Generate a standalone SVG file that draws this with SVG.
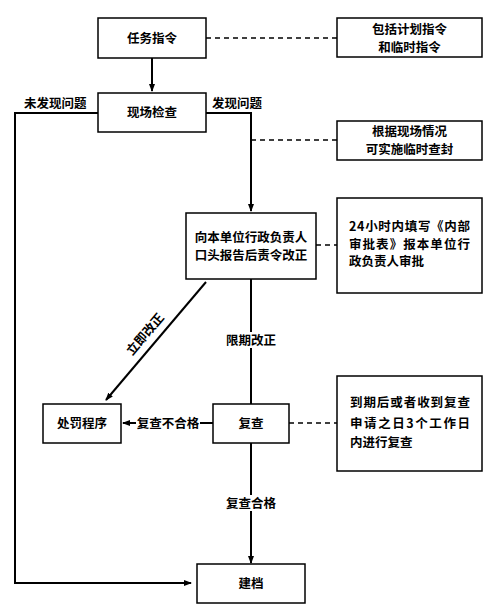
<svg xmlns="http://www.w3.org/2000/svg" width="500" height="606" viewBox="0 0 500 606">
<style>
.box{fill:#fff;stroke:#000;stroke-width:1.5}
.t{font-family:"Noto Sans CJK SC","Liberation Sans",sans-serif;font-weight:bold;font-size:12.5px;fill:#000}
.c{text-anchor:middle}
.ln{fill:none;stroke:#000;stroke-width:2}
.ds{fill:none;stroke:#000;stroke-width:1.3;stroke-dasharray:5,4}
</style>
<defs>
<marker id="ah" markerWidth="8" markerHeight="8" refX="7" refY="4" orient="auto" markerUnits="userSpaceOnUse">
<path d="M0,1 L8,4 L0,7 Z" fill="#000"/>
</marker>
</defs>
<rect width="500" height="606" fill="#fff"/>
<g id="connectors">
<line class="ds" x1="206" y1="38" x2="337" y2="38"/>
<line class="ln" x1="152" y1="58" x2="152" y2="91" marker-end="url(#ah)"/>
<polyline class="ln" points="98,113 15,113 15,583 191,583" marker-end="url(#ah)"/>
<polyline class="ln" points="206,113 251,113 251,211" marker-end="url(#ah)"/>
<line class="ds" x1="251" y1="140" x2="337" y2="140"/>
<line class="ds" x1="316" y1="245" x2="337" y2="245"/>
<line class="ln" x1="206" y1="282" x2="106" y2="400" marker-end="url(#ah)"/>
<line class="ln" x1="251" y1="279" x2="251" y2="404"/>
<line class="ln" x1="213" y1="423" x2="123" y2="423" marker-end="url(#ah)"/>
<line class="ds" x1="289" y1="423" x2="337" y2="423"/>
<line class="ln" x1="251" y1="443" x2="251" y2="563" marker-end="url(#ah)"/>
<rect x="136" y="415" width="64" height="16" fill="#fff"/>
<rect x="224" y="332" width="54" height="16" fill="#fff"/>
<rect x="224" y="495" width="54" height="16" fill="#fff"/>
<text class="t c" x="168" y="427.5">复查不合格</text>
<text class="t c" x="251" y="344.5">限期改正</text>
<text class="t c" x="251" y="507.5">复查合格</text>
<text class="t c" transform="translate(145,334) rotate(-49.5)" y="4.5">立即改正</text>
<text class="t" x="24" y="107.5">未发现问题</text>
<text class="t" x="212" y="107.5">发现问题</text>
</g>
<g id="n1"><rect class="box" x="98" y="18" width="108" height="40"/><text class="t c" x="152" y="42.5">任务指令</text></g>
<g id="n2"><rect class="box" x="98" y="93" width="108" height="39"/><text class="t c" x="152" y="117">现场检查</text></g>
<g id="n3"><rect class="box" x="186" y="213" width="130" height="66"/><text class="t c" x="251" y="241.5">向本单位行政负责人</text><text class="t c" x="251" y="260">口头报告后责令改正</text></g>
<g id="n4"><rect class="box" x="43" y="404" width="78" height="39"/><text class="t c" x="82" y="428">处罚程序</text></g>
<g id="n5"><rect class="box" x="213" y="404" width="76" height="39"/><text class="t c" x="251" y="428">复查</text></g>
<g id="n6"><rect class="box" x="197" y="564" width="108" height="39"/><text class="t c" x="251" y="588">建档</text></g>
<g id="note1"><rect class="box" x="337" y="18" width="145" height="39"/><text class="t c" x="409.5" y="33.5">包括计划指令</text><text class="t c" x="409.5" y="51.5">和临时指令</text></g>
<g id="note2"><rect class="box" x="337" y="121" width="145" height="39"/><text class="t c" x="409.5" y="135.5">根据现场情况</text><text class="t c" x="409.5" y="153.5">可实施临时查封</text></g>
<g id="note3"><rect class="box" x="337" y="198" width="145" height="95"/>
<text class="t" x="349" y="231" textLength="121" lengthAdjust="spacing">24小时内填写《内部</text>
<text class="t" x="349" y="248.5" textLength="121" lengthAdjust="spacing">审批表》报本单位行</text>
<text class="t" x="349" y="266">政负责人审批</text></g>
<g id="note4"><rect class="box" x="337" y="376" width="145" height="95"/>
<text class="t" x="350" y="406.5" textLength="120" lengthAdjust="spacing">到期后或者收到复查</text>
<text class="t" x="350" y="428" textLength="120" lengthAdjust="spacing">申请之日3个工作日</text>
<text class="t" x="350" y="447">内进行复查</text></g>
</svg>
